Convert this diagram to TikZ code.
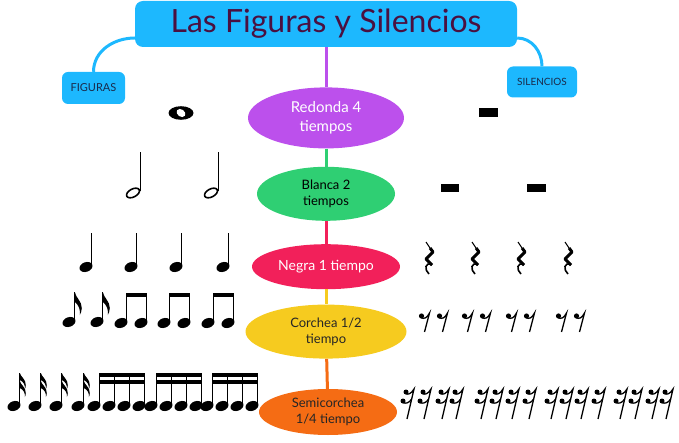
\documentclass[tikz,border=0pt]{standalone}
\usepackage{fontspec}
\setmainfont{Lato}
\usetikzlibrary{shapes.geometric,positioning}

\definecolor{cielo}{HTML}{1DB8FE}
\definecolor{titulo}{HTML}{4A1040}
\definecolor{tagtext}{HTML}{1A2A4A}
\definecolor{morado}{HTML}{BC50EC}
\definecolor{verde}{HTML}{2FCF73}
\definecolor{rosa}{HTML}{F2205A}
\definecolor{amarillo}{HTML}{F6CB1F}
\definecolor{naranja}{HTML}{F56C14}

% music signs, drawn around the note head / centre of the rest
\tikzset{
  stem/.style={line width=1.3pt},
  cabeza/.pic={\fill[rotate=20] (0,0) ellipse [x radius=6.7, y radius=4.8];},
  bandera/.pic={\fill (0,0) .. controls (1,6) and (7,9) .. (7,16) .. controls (7,19) and (6,21) .. (5,23)
      .. controls (5.8,18) and (4,13) .. (0,10) -- cycle;},
  banderita/.pic={\fill (0,0) .. controls (1,4) and (6,6) .. (6,12) .. controls (6,14) and (5.5,15) .. (5,16)
      .. controls (5.5,12) and (4,9) .. (0,7) -- cycle;},
  redondanota/.pic={\fill (0,0) ellipse [x radius=12.5, y radius=6.8];
      \fill[white, rotate=-35] (0,0) ellipse [x radius=4.8, y radius=3.6];},
  blancanota/.pic={\draw[line width=1.6pt, rotate=28] (0,0) ellipse [x radius=7, y radius=4];
      \draw[stem] (7.3,-1.5) -- (7.3,-41);},
  negranota/.pic={\pic {cabeza}; \draw[stem] (5.8,-1) -- (5.8,-34);},
  corcheanota/.pic={\pic {cabeza}; \draw[stem] (5.8,-1) -- (5.8,-30); \pic at (5.8,-30) {bandera};},
  semicorcheanota/.pic={\pic {cabeza}; \draw[stem] (5.8,-1) -- (5.8,-33);
      \pic at (5.8,-33) {banderita}; \pic at (5.8,-25) {banderita};},
  silnegra/.pic={\draw[line width=1pt] (-3,-16) -- (1,-10);
      \draw[line width=3pt, line join=bevel] (1,-10) -- (4,-6) -- (-3,1) -- (3,7);
      \draw[line width=1.6pt] (3,7) .. controls (-4,3) and (-5,12) .. (0,16);},
  silcorchea/.pic={\fill (-3.5,-6) circle (2.6);
      \draw[line width=1.3pt] (-4,-4.5) .. controls (-1,-2.5) and (2,-4) .. (4.5,-9) -- (-0.5,10);},
  silsemicorchea/.pic={\fill (-2,-11) circle (2.5); \fill (-5,-2) circle (2.5);
      \draw[line width=1.3pt] (-2.5,-9.5) .. controls (0,-8) and (3,-9) .. (6,-14) -- (-1,16);
      \draw[line width=1.3pt] (-5.5,-0.5) .. controls (-2,1) and (1,0) .. (3.7,-4);}
}

\begin{document}
\begin{tikzpicture}[
    x=1pt, y=-1pt,
    titlebox/.style={fill=cielo, rounded corners=8pt, minimum width=382, minimum height=46,
      text=titulo, font=\fontsize{32}{36}\selectfont},
    tag/.style={fill=cielo, rounded corners=6pt, inner sep=0pt, text=tagtext,
      font=\fontsize{11}{12}\selectfont},
    oval/.style={ellipse, inner sep=0pt, align=center, font=\fontsize{13}{16}\selectfont},
    link/.style={line width=3pt}
  ]
  \useasboundingbox (0,0) rectangle (679,443);

  \node[titlebox] (title) at (326,24) {Las Figuras y Silencios};
  \node[tag, minimum width=63, minimum height=32] (figuras) at (93.5,88) {FIGURAS};
  \node[tag, minimum width=70, minimum height=31, font=\fontsize{10}{12}\selectfont] (silencios) at (542,82) {SILENCIOS};

  \node[oval, fill=morado, text=white, minimum width=156, minimum height=61,
    font=\fontsize{15}{19}\selectfont, below=40pt of title] (redonda) {Redonda 4\\tiempos};
  \node[oval, fill=verde, text=black, minimum width=138, minimum height=54,
    below=18pt of redonda] (blanca) {Blanca 2\\tiempos};
  \node[oval, fill=rosa, text=white, minimum width=148, minimum height=45,
    font=\fontsize{14}{16}\selectfont, below=23pt of blanca] (negra) {Negra 1 tiempo};
  \node[oval, fill=amarillo, text=black!85, minimum width=161, minimum height=54,
    below=15pt of negra] (corchea) {Corchea 1/2\\tiempo};
  \node[oval, fill=naranja, text=black!85, minimum width=138, minimum height=46,
    below=30pt of corchea, xshift=2pt] (semicorchea) {Semicorchea\\1/4 tiempo};

  \draw[link, cielo] ([yshift=-14pt]title.west) to[out=180, in=90] (figuras.north);
  \draw[link, cielo] ([yshift=-14pt]title.east) to[out=0, in=90] (silencios.north);
  \draw[link, morado] (title) -- (redonda);
  \draw[link, verde] (redonda) -- (blanca);
  \draw[link, rosa] (blanca) -- (negra);
  \draw[link, amarillo] (negra) -- (corchea);
  \draw[link, naranja] (corchea) -- (semicorchea);

  % figuras
  \pic at (181,113) {redondanota};
  \foreach \x in {133,211} \pic at (\x,193) {blancanota};
  \foreach \x in {86,131,176,223} \pic at (\x,267) {negranota};
  \foreach \x in {69,97} \pic at (\x,322) {corcheanota};
  \foreach \x in {121,164,208} {
    \pic at (\x,323) {cabeza};
    \pic at (\x+20,323) {cabeza};
    \draw[stem] (\x+5.8,322) -- (\x+5.8,293);
    \draw[stem] (\x+25.8,322) -- (\x+25.8,293);
    \fill (\x+5.2,293) rectangle (\x+26.4,297);
  }
  \foreach \x in {14,35,56,78} \pic at (\x,406) {semicorcheanota};
  \foreach \x in {94,151,207} {
    \foreach \k in {0,15,30,45} {
      \pic at (\x+\k,406) {cabeza};
      \draw[stem] (\x+\k+5.8,405) -- (\x+\k+5.8,373);
    }
    \fill (\x+5.2,373) rectangle (\x+51.4,377);
    \fill (\x+5.2,380) rectangle (\x+51.4,384);
  }

  % silencios
  \fill (479,108) rectangle (498,117);
  \fill (441,184) rectangle (459,192);
  \fill (527,184) rectangle (546,192);
  \foreach \x in {429,475,521,568} \pic at (\x,258) {silnegra};
  \foreach \x in {425,443,468,486,512,530,562,580} \pic at (\x,322) {silcorchea};
  \foreach \x in {408,425,443,457,482,497,513,530,552,567,582,599,621,636,653,667}
    \pic at (\x,403) {silsemicorchea};
\end{tikzpicture}
\end{document}
